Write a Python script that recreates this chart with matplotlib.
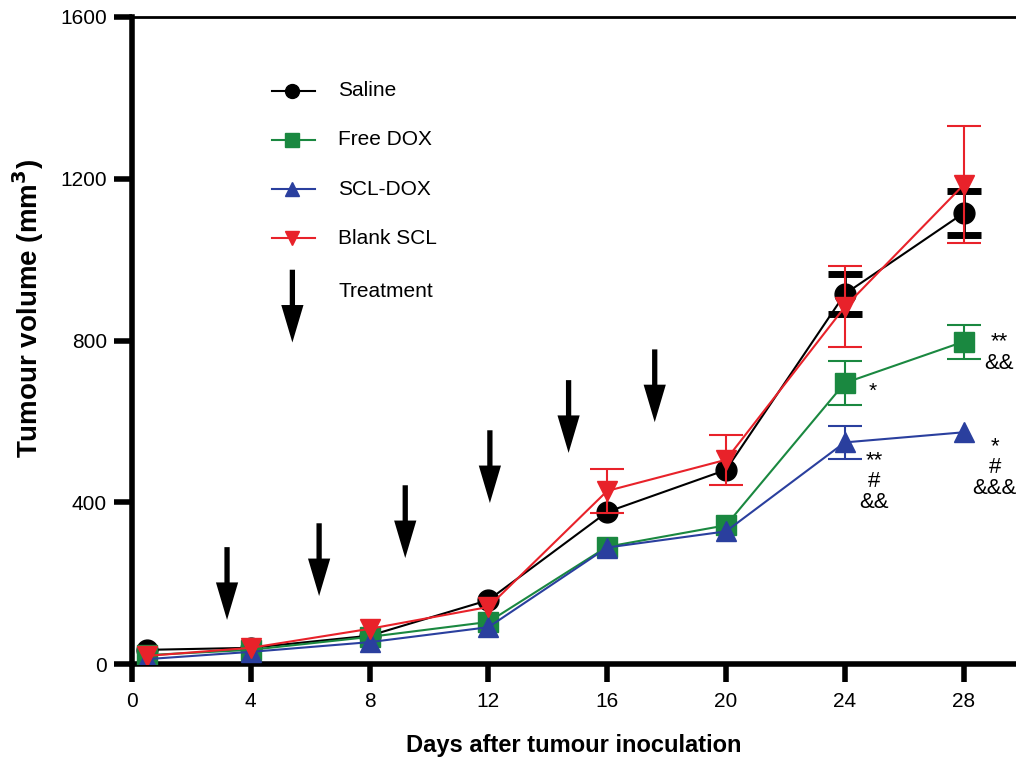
import matplotlib
matplotlib.use('Agg')
import matplotlib.pyplot as plt
import numpy as np

plt.rcParams['font.family'] = ['Liberation Sans', 'DejaVu Sans']

# dias de medição
dias = [0.5, 4, 8, 12, 16, 20, 24, 28]

saline = [35, 40, 70, 158, 376, 480, 915, 1115]
saline_err = [0, 0, 0, 0, 0, 0, 50, 55]
free_dox = [22, 35, 67, 104, 290, 343, 695, 797]
free_dox_err = [0, 0, 0, 0, 0, 0, 54, 42]
scl_dox = [12, 30, 54, 91, 288, 328, 548, 573]
scl_dox_err = [0, 0, 0, 0, 0, 0, 40, 0]
blank_scl = [20, 40, 87, 141, 428, 505, 883, 1185]
blank_scl_err = [0, 0, 0, 0, 55, 62, 100, 145]

# setas de tratamento
trat_dias = [3.2, 6.3, 9.2, 12.05, 14.7, 17.6]
trat_topo = [289, 348, 442, 578, 702, 778]

# significancia
sig_x = [24, 28, 24, 28]
sig_y = [695, 797, 548, 573]
sig_txt = ['*', '**\n&&', '**\n#\n&&', '*\n#\n&&&']

fig = plt.figure(figsize=(10.16, 7.59), dpi=100)
ax = fig.add_axes([132/1016, 95/759, 1 - 132/1016, (664-17)/759])

series = [
    ('Saline', saline, saline_err, 'k', 'o', 15),
    ('Free DOX', free_dox, free_dox_err, '#1a8840', 's', 14),
    ('SCL-DOX', scl_dox, scl_dox_err, '#2a3f9e', '^', 15),
    ('Blank SCL', blank_scl, blank_scl_err, '#e8222a', 'v', 15),
]

seta = dict(width=3.8, headwidth=16, headlength=27, facecolor='k', edgecolor='none',
            shrink=0)

for nome, y, e, cor, mk, ms in series:
    ax.plot(dias, y, color=cor, lw=1.5, marker=mk, ms=ms, zorder=3)
    # barras de erro só onde existem
    idx = [i for i in range(len(e)) if e[i] > 0]
    if cor == 'k':
        ax.errorbar([dias[i] for i in idx], [y[i] for i in idx], yerr=[e[i] for i in idx],
                    fmt='none', ecolor=cor, elinewidth=2, capsize=12, capthick=5, zorder=3)
    else:
        ax.errorbar([dias[i] for i in idx], [y[i] for i in idx], yerr=[e[i] for i in idx],
                    fmt='none', ecolor=cor, elinewidth=1.5, capsize=12, capthick=1.5, zorder=3)

for d, t in zip(trat_dias, trat_topo):
    ax.annotate('', xy=(d, t - 180), xytext=(d, t), arrowprops=seta)

for x, y, s in zip(sig_x, sig_y, sig_txt):
    if s == '*':
        ax.text(x + 0.95, y + 2, s, fontsize=15, ha='center', va='top', linespacing=0.95)
    elif s.startswith('**\n&&'):
        ax.text(x + 1.2, y - 27, s, fontsize=16, ha='center', va='center', linespacing=1.0)
    elif x == 24:
        ax.text(x + 1.0, y - 20, s, fontsize=16, ha='center', va='top', linespacing=1.0)
    else:
        ax.text(x + 1.05, y - 10, s, fontsize=16, ha='center', va='top', linespacing=1.0)

# legenda manual
leg_x = 5.4
leg_y = [1418, 1297, 1174, 1053]
for (nome, y, e, cor, mk, ms), ly in zip(series, leg_y):
    ax.plot([leg_x - 0.7, leg_x + 0.75], [ly, ly], color=cor, lw=1.5)
    ax.plot([leg_x], [ly], marker=mk, color=cor, ms=10)
    ax.text(leg_x + 1.55, ly, nome, fontsize=15, va='center')
ax.annotate('', xy=(leg_x, 795), xytext=(leg_x, 975), arrowprops=seta)
ax.text(leg_x + 1.55, 922, 'Treatment', fontsize=15, va='center')

ax.set_xlim(0, (1016 - 132) / 29.7)
ax.set_ylim(0, 1600)
ax.set_xticks([0, 4, 8, 12, 16, 20, 24, 28])
ax.set_yticks([0, 400, 800, 1200, 1600])
ax.tick_params(axis='both', direction='out', length=13, width=4, labelsize=15)
ax.tick_params(axis='x', pad=7)
ax.tick_params(axis='y', pad=5)
ax.spines['left'].set_linewidth(4)
ax.spines['bottom'].set_linewidth(4)
ax.spines['top'].set_linewidth(2)
ax.spines['right'].set_visible(False)
ax.set_xlabel('Days after tumour inoculation', fontsize=17, fontweight='bold', labelpad=17)
ax.set_ylabel('Tumour volume (mm$^\\mathbf{3}$)', fontsize=20, fontweight='bold')
ax.yaxis.set_label_coords(-0.097, 0.549)

fig.savefig('out.png', dpi=100)
